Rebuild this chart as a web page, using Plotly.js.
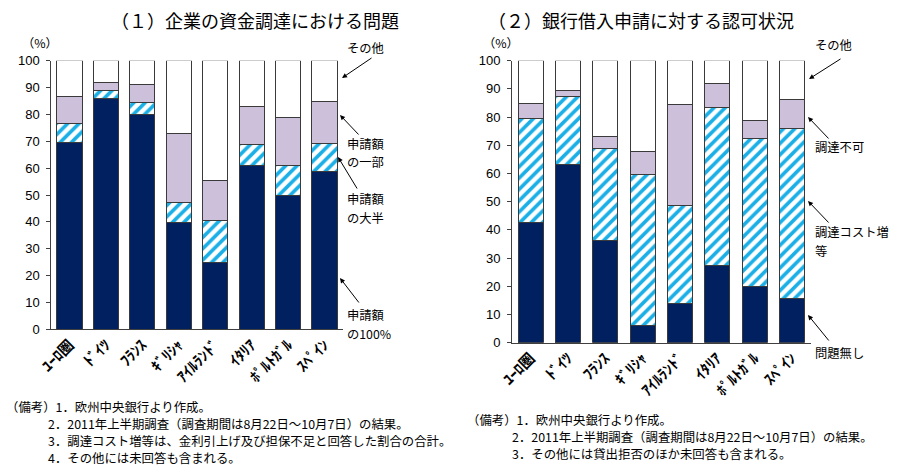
<!DOCTYPE html>
<html>
<head>
<meta charset="utf-8">
<script src="https://cdn.plot.ly/plotly-3.0.1.min.js"></script>
<style>
  html, body { margin: 0; padding: 0; background: #fff; }
  #chart { width: 901px; height: 475px; }
</style>
</head>
<body>
<div id="chart"></div>
<script>
// Countries (half-width katakana labels)
const categories = ['ﾕｰﾛ圏', 'ﾄﾞｲﾂ', 'ﾌﾗﾝｽ', 'ｷﾞﾘｼｬ', 'ｱｲﾙﾗﾝﾄﾞ', 'ｲﾀﾘｱ', 'ﾎﾟﾙﾄｶﾞﾙ', 'ｽﾍﾟｲﾝ'];

// (1) Problems in corporate financing (% of respondents)
const fullAmount   = [69.4, 86.0, 80.1, 39.6, 24.8, 60.8, 50.0, 58.6]; // 申請額の100%
const mostAmount   = [7.2, 2.8, 4.4, 7.7, 15.6, 8.1, 10.9, 10.4];      // 申請額の大半
const partAmount   = [10.0, 3.1, 6.8, 25.7, 14.9, 13.9, 18.1, 15.7];   // 申請額の一部
const otherLeft    = [13.4, 8.1, 8.7, 27.0, 44.7, 17.2, 21.0, 15.3];   // その他

// (2) Approval status of bank loan applications (%)
const noProblem    = [42.6, 63.1, 36.4, 6.0, 14.0, 27.4, 20.1, 15.5];  // 問題無し
const costIncrease = [36.8, 24.1, 32.5, 53.6, 34.7, 55.9, 52.2, 60.3]; // 調達コスト増等
const unavailable  = [5.5, 2.4, 4.1, 8.2, 35.9, 8.7, 6.4, 10.6];       // 調達不可
const otherRight   = [15.1, 10.4, 27.0, 32.2, 15.4, 8.0, 21.3, 13.6];  // その他

const yTicks = [0, 10, 20, 30, 40, 50, 60, 70, 80, 90, 100];

const NAVY = '#002060';
const CYAN = '#1AAFE6';
const LAVENDER = '#CCC0DA';
const EDGE = '#3a3a3a';
const JP = '"Noto Sans CJK JP", "Liberation Sans", sans-serif';

const W = 901, H = 475;
const px = v => v / W;          // horizontal pixel -> paper
const py = v => 1 - v / H;      // vertical pixel -> paper

function seg(values, xa, ya, style, width) {
  const t = {
    type: 'bar', x: categories, y: values, xaxis: xa, yaxis: ya,
    width: width, hoverinfo: 'skip',
    marker: { color: style.color, line: { color: EDGE, width: 1 } }
  };
  if (style.hatch) {
    t.marker.pattern = { shape: '/', fgcolor: CYAN, bgcolor: '#ffffff', size: 8, solidity: 0.45, fillmode: 'replace' };
    t.marker.color = '#ffffff';
  }
  return t;
}

const data = [
  seg(fullAmount, 'x', 'y', { color: NAVY }, 0.69),
  seg(mostAmount, 'x', 'y', { hatch: true }, 0.69),
  seg(partAmount, 'x', 'y', { color: LAVENDER }, 0.69),
  seg(otherLeft, 'x', 'y', { color: '#ffffff' }, 0.69),
  seg(noProblem, 'x2', 'y2', { color: NAVY }, 0.67),
  seg(costIncrease, 'x2', 'y2', { hatch: true }, 0.67),
  seg(unavailable, 'x2', 'y2', { color: LAVENDER }, 0.67),
  seg(otherRight, 'x2', 'y2', { color: '#ffffff' }, 0.67)
];

const xCommon = {
  type: 'category', range: [-0.5, 7.5], showline: true, linecolor: '#404040', linewidth: 1,
  ticks: '', tickangle: -45, showgrid: false, zeroline: false,
  tickfont: { family: JP, size: 15, color: '#000', weight: 'bold' }
};
const yCommon = {
  range: [0, 100], tickvals: yTicks, showline: true, linecolor: '#404040', linewidth: 1,
  ticks: 'outside', ticklen: 4, tickcolor: '#404040', showgrid: false, zeroline: false,
  ticklabelstandoff: 4,
  tickfont: { family: '"Liberation Sans", Arial, sans-serif', size: 13, color: '#000' }
};

const annFont = { family: JP, size: 12.3, color: '#000' };
const noteFont = { family: JP, size: 12.4, color: '#000' };

function label(text, x, y, font, anchor) {
  return { text: text, xref: 'paper', yref: 'paper', x: px(x), y: py(y),
           xanchor: anchor || 'left', yanchor: 'middle', showarrow: false, align: 'left',
           font: font || annFont };
}
function arrow(tailX, tailY, tipX, tipY) {
  return { text: '', xref: 'paper', yref: 'paper', x: px(tipX), y: py(tipY),
           ax: tailX - tipX, ay: tailY - tipY, showarrow: true,
           arrowhead: 2, arrowsize: 1, arrowwidth: 1, arrowcolor: '#000' };
}

const annotations = [
  // titles
  label('（１）企業の資金調達における問題', 255, 20, { family: JP, size: 18, color: '#000' }, 'center'),
  label('（２）銀行借入申請に対する認可状況', 641, 20, { family: JP, size: 18, color: '#000' }, 'center'),
  label('（%）', 40, 43, annFont, 'center'),
  label('（%）', 501, 43, annFont, 'center'),

  // left series labels
  label('その他', 345, 48),
  label('申請額', 345, 144),
  label('の一部', 345, 162.5),
  label('申請額', 345, 199.5),
  label('の大半', 345, 218),
  label('申請額', 345, 315),
  label('の100%', 345, 333.5),
  arrow(373, 57, 342, 78),
  arrow(360, 136, 340, 115),
  arrow(358, 190, 338, 157),
  arrow(360, 304, 340, 278),

  // right series labels
  label('その他', 813, 45),
  label('調達不可', 813, 147),
  label('調達コスト増', 813, 232),
  label('等', 813, 250.5),
  label('問題無し', 813, 353),
  arrow(842, 58, 809, 79),
  arrow(830, 140, 808, 117),
  arrow(830, 224, 808, 201),
  arrow(830, 342, 808, 315),

  // notes
  label('（備考）1．欧州中央銀行より作成。', 4, 407, noteFont),
  label('2．2011年上半期調査（調査期間は8月22日～10月7日）の結果。', 46, 424, noteFont),
  label('3．調達コスト増等は、金利引上げ及び担保不足と回答した割合の合計。', 46, 441, noteFont),
  label('4．その他には未回答も含まれる。', 46, 458, noteFont),
  label('（備考）1．欧州中央銀行より作成。', 465, 420, noteFont),
  label('2．2011年上半期調査（調査期間は8月22日～10月7日）の結果。', 510, 437, noteFont),
  label('3．その他には貸出拒否のほか未回答も含まれる。', 510, 454, noteFont)
];

const layout = {
  width: W, height: H,
  margin: { l: 0, r: 0, t: 0, b: 0 },
  paper_bgcolor: '#ffffff', plot_bgcolor: '#ffffff',
  barmode: 'stack', showlegend: false,
  xaxis: Object.assign({}, xCommon, { domain: [px(51.3), px(342.7)], anchor: 'y' }),
  yaxis: Object.assign({}, yCommon, { domain: [py(329.3), py(60.7)], anchor: 'x' }),
  xaxis2: Object.assign({}, xCommon, { domain: [px(512), px(810.5)], anchor: 'y2' }),
  yaxis2: Object.assign({}, yCommon, { domain: [py(342.7), py(60.7)], anchor: 'x2' }),
  annotations: annotations
};

Plotly.newPlot('chart', data, layout, { staticPlot: true, displayModeBar: false });
</script>
</body>
</html>
